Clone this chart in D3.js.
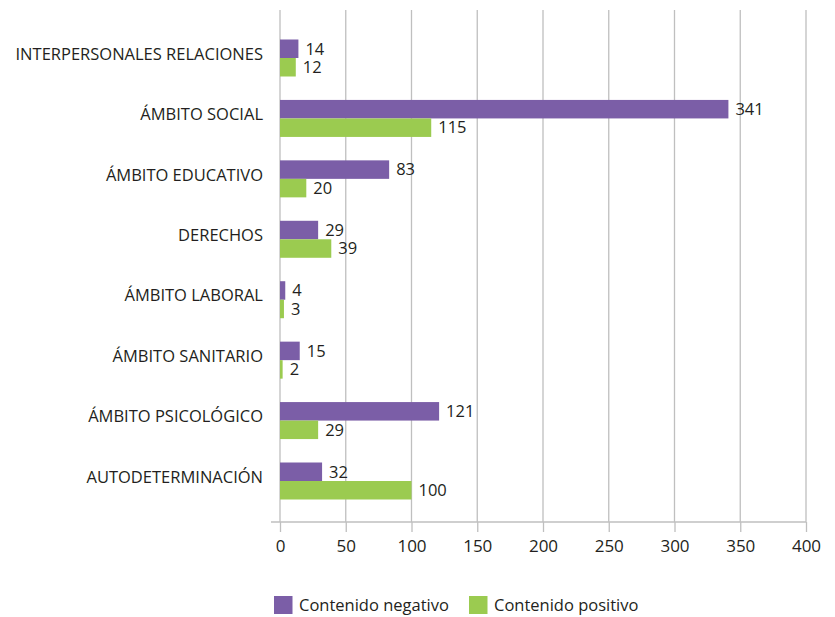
<!DOCTYPE html>
<html lang="es">
  <head>
    <meta charset="utf-8">
    <title>Contenido por ámbito</title>
    <script src="https://d3js.org/d3.v7.js"></script>
    <style>
      body { margin: 0; background: #fff; }
      text { font-family: "Open Sans", sans-serif; fill: #231f20; }
    </style>
  </head>
  <body>
    <script type="text/javascript">
      // data
      var categories = ["INTERPERSONALES RELACIONES", "ÁMBITO SOCIAL", "ÁMBITO EDUCATIVO", "DERECHOS",
        "ÁMBITO LABORAL", "ÁMBITO SANITARIO", "ÁMBITO PSICOLÓGICO", "AUTODETERMINACIÓN"];
      var negativo = [14, 341, 83, 29, 4, 15, 121, 32];
      var positivo = [12, 115, 20, 39, 3, 2, 29, 100];
      var seriesNames = ["Contenido negativo", "Contenido positivo"];
      var seriesColors = ["#7b5ea7", "#9bcb50"];
      var xTicks = [0, 50, 100, 150, 200, 250, 300, 350, 400];

      var w = 835, h = 617;
      var plot = {left: 280, right: 806, top: 10, bottom: 522};
      var barH = 18.5;

      var xScale = d3.scaleLinear().domain([0, 400]).range([plot.left, plot.right]);
      var yScale = d3.scalePoint().domain(categories).range([58, 481]);

      var svg = d3.select("body").append("svg")
        .attr("width", w).attr("height", h);

      // vertical grid lines
      svg.append("g").selectAll("line")
        .data(xTicks).enter().append("line")
        .attr("x1", d => xScale(d)).attr("x2", d => xScale(d))
        .attr("y1", plot.top).attr("y2", plot.bottom)
        .attr("stroke", "#bfbfbf").attr("stroke-width", 1.3);

      // x axis
      var xAxis = d3.axisBottom(xScale).tickValues(xTicks).tickSize(10).tickPadding(8);
      var gx = svg.append("g")
        .attr("transform", `translate(0, ${plot.bottom})`)
        .call(xAxis);
      gx.select(".domain").remove();
      gx.selectAll(".tick line").attr("stroke", "#bfbfbf").attr("stroke-width", 1.3);
      gx.selectAll(".tick text").style("font-size", "17px").attr("fill", "#231f20");
      svg.append("line")
        .attr("x1", plot.left - 9).attr("x2", plot.right)
        .attr("y1", plot.bottom).attr("y2", plot.bottom)
        .attr("stroke", "#bfbfbf").attr("stroke-width", 1.3);

      // category labels
      svg.append("g").selectAll("text")
        .data(categories).enter().append("text")
        .attr("x", 263).attr("y", d => yScale(d) - 4)
        .attr("dy", "0.35em").attr("text-anchor", "end")
        .style("font-size", "16.5px")
        .text(d => d);

      // bars
      var seriesData = [negativo, positivo];
      seriesData.forEach(function(vals, s) {
        var g = svg.append("g");
        g.selectAll("rect")
          .data(vals).enter().append("rect")
          .attr("x", xScale(0))
          .attr("y", (d, i) => yScale(categories[i]) - barH + s * barH)
          .attr("width", d => xScale(d) - xScale(0))
          .attr("height", barH)
          .attr("fill", seriesColors[s]);
        g.selectAll("text")
          .data(vals).enter().append("text")
          .attr("x", d => xScale(d) + 7)
          .attr("y", (d, i) => yScale(categories[i]) - barH / 2 + s * barH)
          .attr("dy", "0.35em")
          .style("font-size", "16.5px")
          .text(d => d);
      });

      // legend
      var legX = [274, 469];
      seriesNames.forEach(function(name, s) {
        svg.append("rect")
          .attr("x", legX[s]).attr("y", 596)
          .attr("width", 18.5).attr("height", 18)
          .attr("fill", seriesColors[s]);
        svg.append("text")
          .attr("x", legX[s] + 25).attr("y", 605)
          .attr("dy", "0.35em")
          .style("font-size", "16.5px")
          .text(name);
      });
    </script>
  </body>
</html>
